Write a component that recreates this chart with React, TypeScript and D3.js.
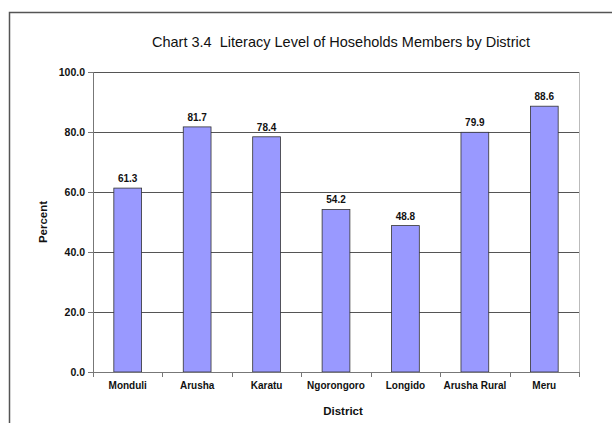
import React from "react";
import * as d3 from "d3";

const districts = ["Monduli", "Arusha", "Karatu", "Ngorongoro", "Longido", "Arusha Rural", "Meru"];
const literacy = [61.3, 81.7, 78.4, 54.2, 48.8, 79.9, 88.6];
const yTicks = [0, 20, 40, 60, 80, 100];

const W = 612;
const H = 423;
const font = "'Liberation Sans', Arial, sans-serif";

export default function App() {
  const left = 93, right = 579, top = 72, bottom = 372;

  const x = d3.scaleBand<string>().domain(districts).range([left, right]).paddingInner(0).paddingOuter(0);
  const y = d3.scaleLinear().domain([0, 100]).range([bottom, top]);
  const barW = x.bandwidth() / 2.5;

  return (
    <svg width={W} height={H} style={{ position: "absolute", left: 0, top: 0, background: "#fff" }} fontFamily={font}>
      {/* outer chart frame */}
      <path d={`M9.5,${H} V12.5 H${W}`} fill="none" stroke="#555" strokeWidth={1.5} />

      <text x={341} y={47} textAnchor="middle" fontSize={14.5} fill="#111" style={{ whiteSpace: "pre" }}>
        {"Chart 3.4  Literacy Level of Hoseholds Members by District"}
      </text>

      {/* plot area border, right side */}
      <line x1={right + 0.5} x2={right + 0.5} y1={top} y2={bottom} stroke="#bbb" />

      {yTicks.map(t => (
        <g key={t}>
          {t > 0 && <line x1={left} x2={right} y1={Math.round(y(t)) + 0.5} y2={Math.round(y(t)) + 0.5} stroke="#555" />}
          <line x1={left - 5} x2={left} y1={Math.round(y(t)) + 0.5} y2={Math.round(y(t)) + 0.5} stroke="#777" />
          <text x={left - 8} y={y(t) + 3.5} textAnchor="end" fontSize={10.5} fontWeight="bold" fill="#111">
            {t.toFixed(1)}
          </text>
        </g>
      ))}

      {districts.map((d, i) => {
        const cx = (x(d) as number) + x.bandwidth() / 2;
        const v = literacy[i];
        return (
          <g key={d}>
            <rect x={cx - barW / 2} y={y(v)} width={barW} height={bottom - y(v)} fill="#9999FF" stroke="#333" strokeWidth={0.8} />
            <text x={cx} y={y(v) - 6} textAnchor="middle" fontSize={10} fontWeight="bold" fill="#111">
              {v.toFixed(1)}
            </text>
            <text x={cx} y={389} textAnchor="middle" fontSize={10} fontWeight="bold" fill="#111">
              {d}
            </text>
          </g>
        );
      })}

      {/* axes */}
      <line x1={left + 0.5} x2={left + 0.5} y1={top} y2={bottom} stroke="#777" />
      <line x1={left} x2={right + 1} y1={bottom + 0.5} y2={bottom + 0.5} stroke="#777" />
      {districts.map(d => (
        <line key={d} x1={Math.round(x(d) as number) + 0.5} x2={Math.round(x(d) as number) + 0.5} y1={bottom} y2={bottom + 5} stroke="#777" />
      ))}
      <line x1={right + 0.5} x2={right + 0.5} y1={bottom} y2={bottom + 5} stroke="#777" />

      <text x={343} y={415} textAnchor="middle" fontSize={11.5} fontWeight="bold" fill="#111">
        District
      </text>
      <text transform="translate(47,222) rotate(-90)" textAnchor="middle" fontSize={11.5} fontWeight="bold" fill="#111">
        Percent
      </text>
    </svg>
  );
}
